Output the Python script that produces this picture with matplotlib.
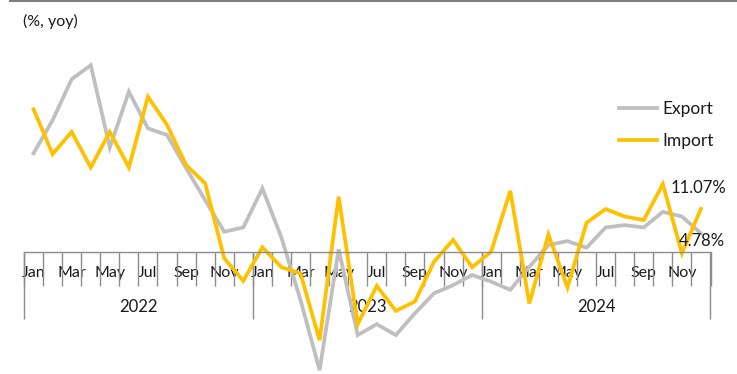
import matplotlib.pyplot as plt
import numpy as np
from matplotlib.lines import Line2D

plt.rcParams['font.family'] = ['Lato', 'DejaVu Sans']

# monthly yoy growth, Jan 2022 - Dec 2024
months = ['Jan', 'Feb', 'Mar', 'Apr', 'May', 'Jun',
          'Jul', 'Aug', 'Sep', 'Oct', 'Nov', 'Dec'] * 3
years = ['2022', '2023', '2024']
export = [25.3, 33.8, 44.3, 47.9, 26.8, 41.1, 31.7, 30.0, 21.5, 13.3, 5.2, 6.3,
          16.3, 3.7, -12.3, -30.3, 0.7, -21.3, -18.5, -21.3, -15.7, -10.6, -8.5, -5.9,
          -7.6, -9.7, -3.8, 1.8, 2.8, 1.1, 6.3, 6.9, 6.3, 10.3, 9.1, 4.78]
imports = [36.6, 25.1, 30.8, 21.7, 30.8, 21.7, 39.8, 32.6, 22.3, 17.6, -1.6, -7.4,
           1.2, -3.9, -5.5, -22.6, 14.2, -18.5, -8.7, -15.1, -12.7, -2.5, 3.1, -3.9,
           0.1, 15.7, -13.2, 4.5, -9.1, 7.5, 11.0, 9.1, 8.2, 17.4, -0.3, 11.07]

W, H = 737, 374
fig = plt.figure(figsize=(W / 100, H / 100), dpi=100)
ax = fig.add_axes([24 / W, 0, (710.5 - 24) / W, 1])

n = len(months)
x = np.arange(n) + 0.5
ymax, ymin = 252 / 3.9, -(H - 252) / 3.9

grey = '#BFBFBF'
gold = '#FFC000'
axis_col = '#8C8C8C'
txt = '#1A1A1A'

ax.plot(x, export, color=grey, lw=2.7, label='Export', solid_joinstyle='miter')
ax.plot(x, imports, color=gold, lw=2.7, label='Import', solid_joinstyle='miter')

ax.set_xlim(0, n)
ax.set_ylim(ymin, ymax)
for s in ['top', 'right', 'left']:
    ax.spines[s].set_visible(False)
ax.spines['bottom'].set_position(('data', 0))
ax.spines['bottom'].set_color(axis_col)
ax.spines['bottom'].set_linewidth(1)
ax.set_yticks([])

# month labels (every other month) and boundary ticks
ax.set_xticks(x)
ax.set_xticklabels([m if i % 2 == 0 else '' for i, m in enumerate(months)], fontsize=11.5)
ax.tick_params(axis='x', which='major', length=0, pad=10, labelcolor=txt)
ax.set_xticks(np.arange(n + 1), minor=True)
ax.tick_params(axis='x', which='minor', length=24.5, width=1, color=axis_col, direction='out')

# year groups
loc = (0 - ymin) / (ymax - ymin)
sec = ax.secondary_xaxis(loc)
for s in sec.spines.values():
    s.set_visible(False)
sec.set_xticks(np.arange(len(years)) * 12 + 6)
sec.set_xticklabels(years, fontsize=12)
sec.tick_params(axis='x', which='major', length=0, pad=34, labelcolor=txt)
sec.set_xticks(np.arange(len(years) + 1) * 12, minor=True)
sec.tick_params(axis='x', which='minor', length=48.2, width=1, color=axis_col, direction='out')

# end-point labels
ax.annotate(f'{imports[-1]:.2f}%', xy=(x[-1], imports[-1]), xytext=(-22, 15),
            textcoords='offset points', ha='left', va='center', fontsize=12, color=txt)
ax.annotate(f'{export[-1]:.2f}%', xy=(x[-1], export[-1]), xytext=(-16, -5.5),
            textcoords='offset points', ha='left', va='center', fontsize=12, color=txt)

fig.text(23 / W, 1 - 21 / H, '(%, yoy)', fontsize=11.5, color=txt, ha='left', va='center')

ax.legend(loc='upper left', bbox_to_anchor=(619 / W, 1 - 101 / H), bbox_transform=fig.transFigure,
          frameon=False, fontsize=12.5, borderpad=0, borderaxespad=0, handlelength=2.2,
          handletextpad=0.3, labelspacing=0.95, labelcolor=txt)

fig.add_artist(Line2D([10 / W, 1], [1 - 0.8 / H, 1 - 0.8 / H], color='#7F7F7F', lw=1.5,
                      transform=fig.transFigure))

fig.savefig('out.png', dpi=100)
